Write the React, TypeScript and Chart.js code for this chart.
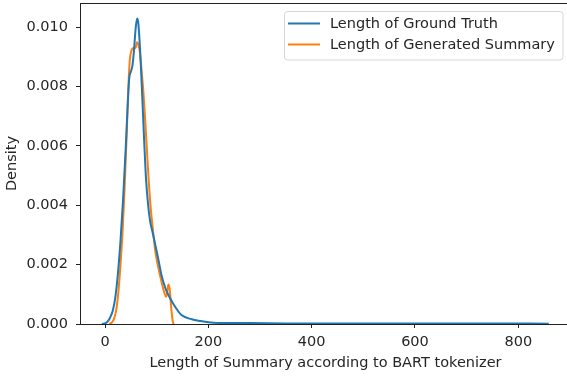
import React, { useEffect, useRef } from 'react';
import { Chart, registerables } from 'chart.js';

Chart.register(...registerables);

const seriesLabels = ['Length of Ground Truth', 'Length of Generated Summary'];
const seriesColors = ['#1f77b4', '#ff7f0e'];

const truthX = [-6, 0, 5, 10, 15, 20, 25, 30, 35, 40, 44, 47, 50, 53, 56, 59, 62, 64, 66, 68, 70, 73, 76, 79, 83, 87, 92, 97, 103, 110, 117, 125, 135, 148, 168, 185, 200, 230, 280, 350, 450, 550, 650, 750, 859];
const truthY = [0, 0.00002, 0.00008, 0.00022, 0.00045, 0.0009, 0.0017, 0.0028, 0.0042, 0.0059, 0.0074, 0.0083, 0.0085, 0.0087, 0.0092, 0.0099, 0.0103, 0.0102, 0.0098, 0.0092, 0.0085, 0.0073, 0.0061, 0.005, 0.0041, 0.0035, 0.0031, 0.0027, 0.0022, 0.0016, 0.0012, 0.0009, 0.0006, 0.0003, 0.00016, 0.0001, 0.00006, 0.00003, 0.00003, 0.00002, 0.00002, 0.00002, 0.00002, 0.00002, 0.00001];

const genX = [8, 13, 18, 22, 26, 30, 34, 38, 42, 45, 48, 51, 55, 59, 62, 65, 68, 71, 74, 77, 80, 84, 88, 92, 97, 102, 107, 111, 115, 118, 120, 122.5, 125, 127, 129, 131, 133];
const genY = [0, 0.00005, 0.0002, 0.0005, 0.0011, 0.002, 0.0031, 0.0046, 0.0064, 0.0079, 0.0089, 0.0092, 0.0093, 0.0093, 0.0095, 0.0094, 0.0091, 0.0085, 0.0079, 0.0071, 0.0062, 0.005, 0.004, 0.0033, 0.0025, 0.002, 0.0016, 0.0013, 0.00105, 0.00092, 0.001, 0.00133, 0.0012, 0.0008, 0.0004, 0.0001, 0];

const xTitle = 'Length of Summary according to BART tokenizer';
const yTitle = 'Density';

const FONT = "'DejaVu Sans', sans-serif";
const FS = 14.5;
const TEXT = '#262626';

const framePlugin = {
  id: 'frameAndLegend',
  afterDraw(chart: any) {
    const { ctx, chartArea } = chart;
    ctx.save();
    ctx.strokeStyle = '#222';
    ctx.lineWidth = 1;
    ctx.beginPath();
    ctx.moveTo(chartArea.left, chartArea.top + 0.5);
    ctx.lineTo(chartArea.right, chartArea.top + 0.5);
    ctx.moveTo(chartArea.right - 0.5, chartArea.top);
    ctx.lineTo(chartArea.right - 0.5, chartArea.bottom);
    ctx.stroke();

    // legend
    const lx = 284.5, ly = 11.5, lw = 278.5, lh = 48.5, r = 3;
    ctx.beginPath();
    ctx.moveTo(lx + r, ly);
    ctx.lineTo(lx + lw - r, ly);
    ctx.quadraticCurveTo(lx + lw, ly, lx + lw, ly + r);
    ctx.lineTo(lx + lw, ly + lh - r);
    ctx.quadraticCurveTo(lx + lw, ly + lh, lx + lw - r, ly + lh);
    ctx.lineTo(lx + r, ly + lh);
    ctx.quadraticCurveTo(lx, ly + lh, lx, ly + lh - r);
    ctx.lineTo(lx, ly + r);
    ctx.quadraticCurveTo(lx, ly, lx + r, ly);
    ctx.closePath();
    ctx.fillStyle = 'rgba(255,255,255,0.8)';
    ctx.fill();
    ctx.strokeStyle = '#d6d6d6';
    ctx.stroke();

    ctx.font = `${FS}px ${FONT}`;
    ctx.textBaseline = 'middle';
    ctx.textAlign = 'left';
    seriesLabels.forEach((label, i) => {
      const y = 23.5 + i * 21;
      ctx.strokeStyle = seriesColors[i];
      ctx.lineWidth = 2;
      ctx.beginPath();
      ctx.moveTo(288, y);
      ctx.lineTo(320, y);
      ctx.stroke();
      ctx.fillStyle = TEXT;
      ctx.fillText(label, 330, y + 0.5);
    });
    ctx.restore();
  },
};

export default function App() {
  const ref = useRef<HTMLCanvasElement>(null);
  useEffect(() => {
    if (!ref.current) return;
    const chart = new Chart(ref.current, {
      type: 'line',
      data: {
        datasets: [
          {
            label: seriesLabels[0],
            data: truthX.map((x, i) => ({ x, y: truthY[i] })),
            borderColor: seriesColors[0],
            borderWidth: 2,
            pointRadius: 0,
            cubicInterpolationMode: 'monotone',
            fill: false,
          },
          {
            label: seriesLabels[1],
            data: genX.map((x, i) => ({ x, y: genY[i] })),
            borderColor: seriesColors[1],
            borderWidth: 2,
            pointRadius: 0,
            cubicInterpolationMode: 'monotone',
            fill: false,
          },
        ],
      },
      options: {
        animation: false,
        responsive: false,
        layout: { padding: { top: 3, right: 1, left: 0, bottom: 0 } },
        plugins: { legend: { display: false }, tooltip: { enabled: false } },
        scales: {
          x: {
            type: 'linear',
            min: -48.4,
            max: 902,
            afterFit: (s: any) => { s.height = 55; s.paddingLeft = 0; s.paddingRight = 0; },
            grid: { drawOnChartArea: false, drawTicks: true, tickLength: 4, color: '#222' },
            border: { color: '#222' },
            ticks: { stepSize: 200, includeBounds: false, padding: 6, color: TEXT, font: { family: FONT, size: FS }, maxRotation: 0 },
            title: { display: true, text: xTitle, color: TEXT, font: { family: FONT, size: FS }, padding: { top: 0, bottom: 7 } },
          },
          y: {
            type: 'linear',
            min: 0,
            max: 0.01082,
            afterFit: (s: any) => { s.width = 80; s.paddingTop = 0; s.paddingBottom = 0; },
            grid: { drawOnChartArea: false, drawTicks: true, tickLength: 4, color: '#222' },
            border: { color: '#222' },
            ticks: { stepSize: 0.002, includeBounds: false, padding: 8, color: TEXT, font: { family: FONT, size: FS }, callback: (v: any) => Number(v).toFixed(3) },
            title: { display: true, text: yTitle, color: TEXT, font: { family: FONT, size: FS }, padding: { top: 4, bottom: 0 } },
          },
        },
      },
      plugins: [framePlugin],
    });
    return () => chart.destroy();
  }, []);
  return (
    <div style={{ position: 'fixed', left: 0, top: 0, width: 567, height: 379, overflow: 'hidden', background: '#fff' }}>
      <canvas ref={ref} width={572} height={379} style={{ display: 'block', width: 572, height: 379 }} />
    </div>
  );
}
